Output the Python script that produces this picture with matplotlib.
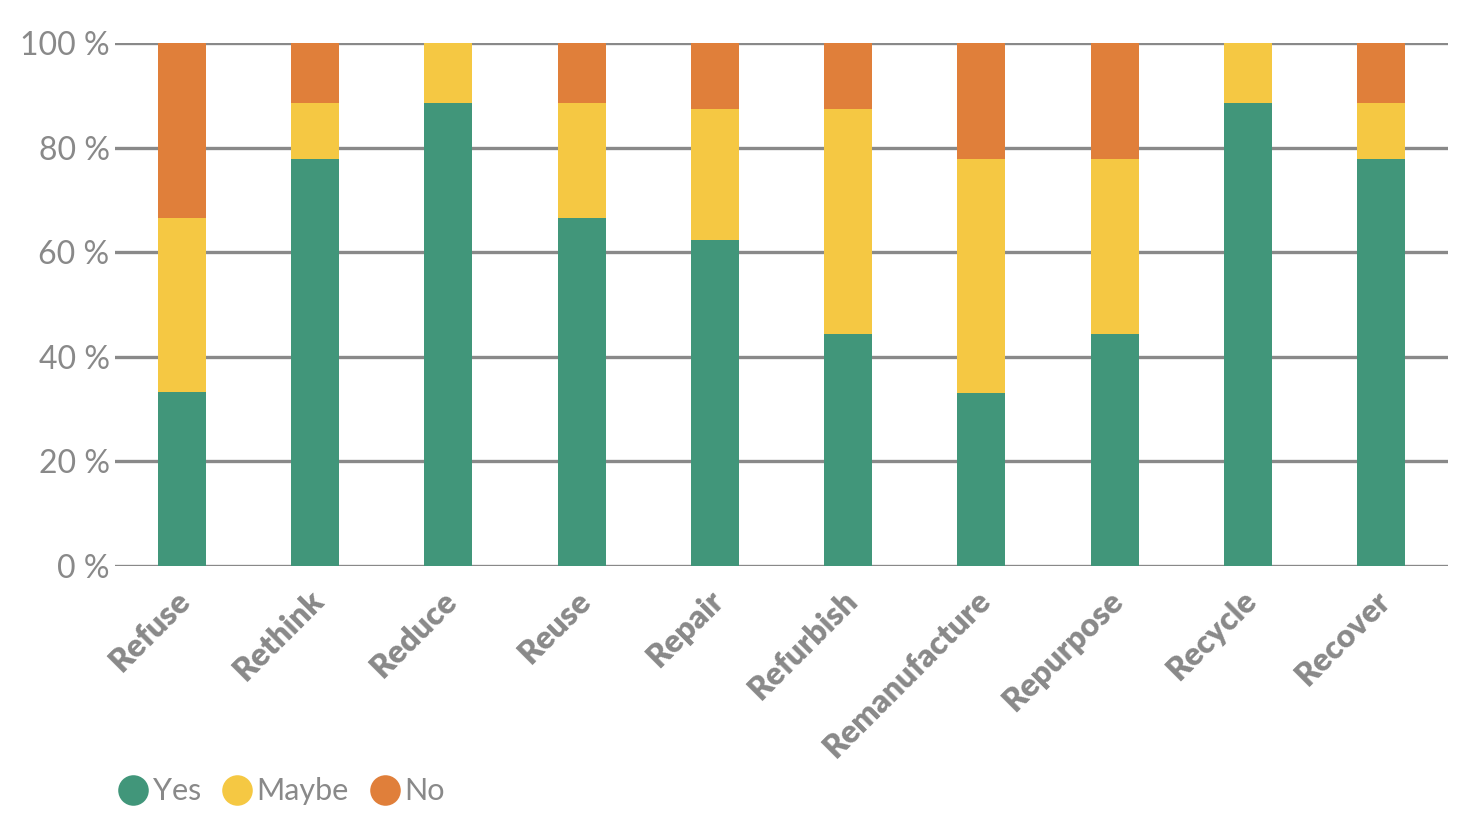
import matplotlib.pyplot as plt
from matplotlib.lines import Line2D
from matplotlib.transforms import ScaledTranslation
import numpy as np

categories = ["Refuse", "Rethink", "Reduce", "Reuse", "Repair", "Refurbish",
              "Remanufacture", "Repurpose", "Recycle", "Recover"]
yes = [33.3, 77.8, 88.6, 66.5, 62.4, 44.3, 33.1, 44.3, 88.6, 77.8]
maybe = [33.3, 10.8, 11.4, 22.1, 25.0, 43.1, 44.7, 33.5, 11.4, 10.8]
no = [33.4, 11.4, 0.0, 11.4, 12.6, 12.6, 22.2, 22.2, 0.0, 11.4]
series_names = ["Yes", "Maybe", "No"]
colors = ["#41967A", "#F5C843", "#E07F3A"]
grey = "#898989"

plt.rcParams['font.family'] = ['Lato', 'DejaVu Sans']

fig = plt.figure(figsize=(14.66, 8.23), dpi=100)
ax = fig.add_axes([0.0785, 0.3123, 0.9092, 0.6355])

x = np.arange(len(categories))
bottom = np.zeros(len(categories))
for vals, c in zip([yes, maybe, no], colors):
    ax.bar(x, vals, bottom=bottom, width=0.36, color=c, zorder=3, linewidth=0)
    bottom += np.array(vals)

ax.set_xlim(-0.5, len(categories) - 0.5)
ax.set_ylim(0, 100)
ax.set_yticks(range(0, 101, 20))
ax.set_yticklabels([f"{v} %" for v in range(0, 101, 20)], fontsize=23,
                   color=grey, fontweight='normal')
for v in range(0, 101, 20):
    ax.axhline(v, color=grey, linewidth=2.4, zorder=1)
ax.tick_params(axis='y', length=0, pad=4)
ax.tick_params(axis='x', length=0, pad=14)
ax.set_xticks(x)
ax.set_xticklabels(categories, rotation=45, ha='right', va='top',
                   rotation_mode='anchor', fontsize=23, fontweight='heavy',
                   color=grey)
shift = ScaledTranslation(-6 / 100, 0, fig.dpi_scale_trans)
for lab in ax.get_xticklabels():
    lab.set_transform(lab.get_transform() + shift)
for s in ax.spines.values():
    s.set_visible(False)

handles = [Line2D([], [], marker='o', linestyle='', markersize=22,
                  markerfacecolor=c, markeredgewidth=0) for c in colors]
fig.legend(handles, series_names, loc='lower left', bbox_to_anchor=(0.051, -0.012),
           ncol=3, frameon=False, handletextpad=-0.35, columnspacing=0.17,
           prop={'size': 22, 'weight': 'normal'}, labelcolor=grey)

fig.savefig("out.png", dpi=100)
